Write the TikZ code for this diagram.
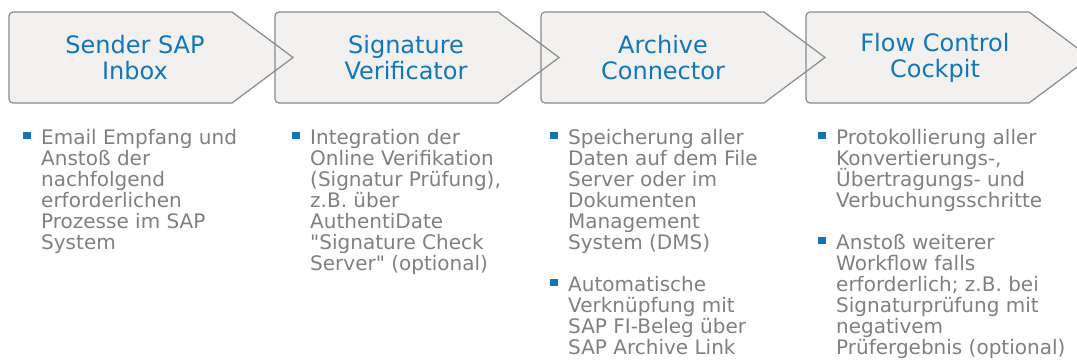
\documentclass[tikz,border=0pt]{standalone}
\usepackage{fontspec}
\setmainfont{DejaVu Sans}
\usepackage{tikz}
\usetikzlibrary{calc}
\definecolor{stepfill}{RGB}{242,241,239}
\definecolor{stepline}{RGB}{138,138,138}
\definecolor{titleblue}{RGB}{18,118,188}
\definecolor{notegray}{RGB}{128,128,128}
\definecolor{bulletblue}{RGB}{20,114,182}
\def\chevron[#1](#2){\path[#1] (#2+223,-103) -- (#2+4,-103) arc[start angle=270,end angle=180,radius=4] -- (#2,-16) arc[start angle=180,end angle=90,radius=4] -- (#2+223,-12) -- (#2+284,-57.5) -- cycle;}
\def\notebullet(#1){\fill[bulletblue] ($(#1.north west)+(-18,-4)$) rectangle ++(7.5,-7);}
\tikzset{
  steptitle/.style={align=center, text=titleblue, font=\fontsize{24}{26}\selectfont},
  stepnote/.style={anchor=north west, inner sep=0pt, align=left, text=notegray, font=\fontsize{20}{21}\selectfont}
}

\begin{document}
\lineskiplimit=-20pt
\begin{tikzpicture}[x=1pt,y=1pt]
			%%%%% START %%%%%
			\useasboundingbox (0,0) rectangle (1077,-361);
			
			\foreach \l in {9,275,541,806}
				\chevron[fill=stepfill](\l);
			\foreach \l in {9,275,541,806}
				\chevron[draw=stepline, line width=1.2pt](\l);
			
			\node[steptitle] (inbox) at (135,-57.5) {Sender SAP\\Inbox};
			\node[steptitle] (verificator) at (406,-57.5) {Signature\\Verificator};
			\node[steptitle] (connector) at (663,-57.5) {Archive\\Connector};
			\node[steptitle] (cockpit) at (935,-57.5) {Flow Control\\Cockpit};
			
			\node[stepnote] (inboxnote) at (41,-128) {\rule{0pt}{16pt}Email Empfang und\\Anstoß der\\nachfolgend\\erforderlichen\\Prozesse im SAP\\System};
			\notebullet(inboxnote)
			
			\node[stepnote] (verificatornote) at (310,-128) {\rule{0pt}{16pt}Integration der\\Online Verifikation\\(Signatur Prüfung),\\z.B. über\\AuthentiDate\\\textquotedbl Signature Check\\Server\textquotedbl{} (optional)};
			\notebullet(verificatornote)
			
			\node[stepnote] (connectornoteA) at (568,-128) {\rule{0pt}{16pt}Speicherung aller\\Daten auf dem File\\Server oder im\\Dokumenten\\Management\\System (DMS)};
			\notebullet(connectornoteA)
			\node[stepnote] (connectornoteB) at (568,-275) {\rule{0pt}{16pt}Automatische\\Verknüpfung mit\\SAP FI-Beleg über\\SAP Archive Link};
			\notebullet(connectornoteB)
			
			\node[stepnote] (cockpitnoteA) at (836,-128) {\rule{0pt}{16pt}Protokollierung aller\\Konvertierungs-,\\Übertragungs- und\\Verbuchungsschritte};
			\notebullet(cockpitnoteA)
			\node[stepnote] (cockpitnoteB) at (836,-233) {\rule{0pt}{16pt}Anstoß weiterer\\Workflow falls\\erforderlich; z.B. bei\\Signaturprüfung mit\\negativem\\Prüfergebnis (optional)};
			\notebullet(cockpitnoteB)
			%%%%% END %%%%%
\end{tikzpicture}
\end{document}
